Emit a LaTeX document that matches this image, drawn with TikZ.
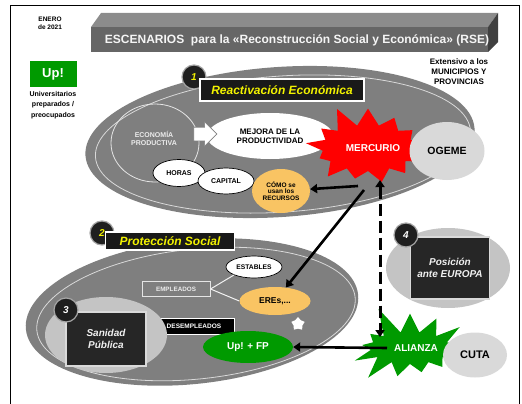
\documentclass[tikz,border=0pt]{standalone}
\usepackage{fontspec}
\setmainfont{Liberation Sans}
\usetikzlibrary{positioning,shapes.geometric,shapes.symbols,shapes.arrows,arrows.meta}
\definecolor{grisfondo}{HTML}{7F7F7F}
\definecolor{grisclaro}{HTML}{D9D9D9}
\definecolor{grismedio}{HTML}{C4C4C4}
\definecolor{naranja}{HTML}{F9C463}
\definecolor{verde}{HTML}{009A00}
\definecolor{amarillo}{HTML}{F2F200}
\newcommand{\tam}[1]{\fontsize{#1}{#1}\selectfont\bfseries}
\begin{document}
\begin{tikzpicture}[x=1pt,y=-1pt,
    elip/.style={ellipse,inner sep=0pt,align=center},
    blanca/.style={elip,fill=white,draw=black,line width=0.7pt,font=\tam{7}},
    recurso/.style={elip,fill=naranja,font=\tam{7}},
    gris/.style={elip,fill=grisclaro,font=\tam{10.5}},
    numero/.style={circle,fill=black!88,draw=gray!70,line width=1.2pt,minimum size=24pt,inner sep=0pt,text=amarillo,font=\tam{10}\itshape},
    rotulo/.style={fill=black!90,draw=white,line width=1.2pt,text=amarillo,font=\tam{12}\itshape,inner sep=0pt},
    bloque/.style={fill=black!85,draw=gray!30,line width=1.2pt,text=white!88!gray,font=\tam{10}\itshape,align=center,inner sep=0pt},
    flecha/.style={line width=2.6pt,-{Triangle[length=7pt,width=9pt]}},
    chispa/.style={starburst,starburst points=13,starburst point height=22pt,inner sep=0pt,text=white,font=\tam{10}}]
\useasboundingbox (0,0) rectangle (522,404);
\draw[line width=0.8pt] (10,404) |- (519,5) -- (519,404);

% titulo en relieve
\fill[black!45] (91,27) -- (101,13) -- (498,13) -- (488,27) -- cycle;
\fill[black!75] (488,27) -- (498,13) -- (498,42) -- (488,52) -- cycle;
\fill[black!60] (91,27) rectangle (488,52);
\node (titulo) [text=white!92!gray,font=\tam{12}] at (297,40) {ESCENARIOS\ \ para la «Reconstrucción Social y Económica» (RSE)};

\node (fecha) [font=\tam{6.5},align=center,text height=6pt] at (50,27) {ENERO\\[2pt]de 2021};
\node (up) [fill=verde,minimum width=47pt,minimum height=25pt,text=white,font=\tam{13}] at (53,74) {Up!};
\node (univ) [below=1pt of up,font=\tam{7},align=center] {Universitarios\\[3.5pt]preparados /\\[3.5pt]preocupados};
\node (ext) [font=\tam{8},align=center] at (459,72) {Extensivo a los\\[2pt]MUNICIPIOS Y\\[2pt]PROVINCIAS};

% 1 reactivacion
\fill[grisfondo] (280,142) ellipse [x radius=195,y radius=75,rotate=4];
\draw[white!70!gray,line width=0.8pt] (283,144) ellipse [x radius=188,y radius=68,rotate=4];
\draw[white!80!gray,line width=0.8pt] (155,143) ellipse [x radius=44,y radius=39];
\node (economia) [text=white!85!gray,font=\tam{7},align=center] at (154,138) {ECONOMÍA\\[1pt]PRODUCTIVA};
\node (mejora) [elip,fill=white,minimum width=126pt,minimum height=46pt,font=\tam{8}] at (270,136) {MEJORA DE LA\\[1pt]PRODUCTIVIDAD};
\node (paso) [single arrow,fill=white,draw=gray,line width=0.6pt,minimum height=23pt,inner sep=6.5pt,single arrow head extend=5.5pt] at (202,134) {};
\node (horas) [blanca,minimum width=52pt,minimum height=27pt] at (179,173) {HORAS};
\node (capital) [blanca,minimum width=56pt,minimum height=26pt] at (226,181) {CAPITAL};
\node (comorec) [recurso,minimum width=58pt,minimum height=44pt,font=\tam{6.5}] at (281,191) {CÓMO se\\usan los\\RECURSOS};
\node (mercurio) [chispa,fill=red,minimum width=100pt,minimum height=90pt,random starburst=11] at (368,148) {\hspace*{10pt}MERCURIO};
\node (ogeme) [gris,minimum width=75pt,minimum height=58pt] at (447,151) {OGEME};
\node (n1) [numero] at (194,77) {1};
\node (reactiva) [rotulo,minimum width=164pt,minimum height=22pt] at (282,90) {Reactivación Económica};

% 2 proteccion
\fill[grisfondo] (192,312) ellipse [x radius=167,y radius=72,rotate=6];
\draw[white!70!gray,line width=0.8pt] (196,314) ellipse [x radius=160,y radius=65,rotate=6];
\node (estables) [blanca,minimum width=56pt,minimum height=22pt,font=\tam{6.7}] at (254,267) {ESTABLES};
\node (empleados) [fill=grisfondo,draw=white!80!gray,line width=1pt,minimum width=68pt,minimum height=15pt,inner sep=0pt,text=white!85!gray,font=\tam{6.3}] at (176,289) {EMPLEADOS};
\node (eres) [recurso,minimum width=71pt,minimum height=28pt,font=\tam{8.5}] at (275,301) {EREs,...};
\node (estrella) [star,star points=5,fill=white,minimum size=14pt,inner sep=0pt] at (298,324) {};
\node (desempleados) [fill=black,draw=white,line width=1pt,minimum width=80pt,minimum height=16pt,inner sep=0pt,text=white,font=\tam{6.5}] at (194,326) {DESEMPLEADOS};
\node (upfp) [elip,fill=verde,minimum width=90pt,minimum height=32pt,text=white,font=\tam{10}] at (248,347) {Up! + FP};
\node (n2) [numero] at (102,233) {2};
\node (proteccion) [rotulo,minimum width=129pt,minimum height=18pt] at (170,241) {Protección Social};
\draw[white!90!gray,line width=1pt] (empleados.east) -- (estables.south west);
\draw[white!90!gray,line width=1pt] (empleados.east) -- (eres.west);

% 3 sanidad
\fill[grismedio] (106,335) ellipse [x radius=61,y radius=38];
\node (sanidad) [bloque,minimum width=80pt,minimum height=54pt] at (106,339) {Sanidad\\[2pt]Pública};
\node (n3) [numero,text=white] at (66,310) {3};

% 4 europa
\fill[grismedio] (448,268) ellipse [x radius=62,y radius=40];
\node (europa) [bloque,minimum width=79pt,minimum height=62pt] at (450,268) {Posición\\[2pt]ante EUROPA};
\node (n4) [numero,text=white] at (406,235) {4};

\node (alianza) [chispa,fill=verde,starburst point height=30pt,minimum width=116pt,minimum height=92pt,random starburst=5] at (410,348) {\hspace*{12pt}ALIANZA};
\node (cuta) [gris,minimum width=64pt,minimum height=45pt,font=\tam{11}] at (475,355) {CUTA};

% conexiones
\draw[flecha] ([shift={(-10,38)}]mercurio.center) -- (comorec);
\draw[flecha] ([shift={(-4,42)}]mercurio.center) -- (eres);
\draw[line width=3pt,dash pattern=on 12pt off 5pt,{Triangle[length=7pt,width=9pt]}-{Triangle[length=7pt,width=9pt]}] ([shift={(12,32)}]mercurio.center) -- ([shift={(-30,-11)}]alianza.center);
\draw[flecha] ([xshift=-23pt]alianza.center) -- (upfp.east);
\end{tikzpicture}
\end{document}
